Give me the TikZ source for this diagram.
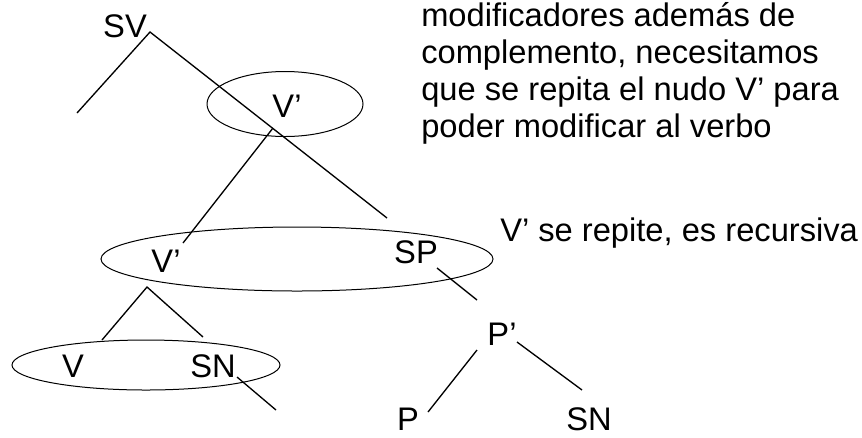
\documentclass[tikz,border=0pt]{standalone}
\usepackage{fontspec}
\setmainfont{Liberation Sans}
\usetikzlibrary{positioning}

\begin{document}
\begin{tikzpicture}[x=0.75pt, y=-0.75pt,
  cat/.style={font=\fontsize{24.5}{28}\selectfont, inner sep=0pt, anchor=base},
  note/.style={font=\fontsize{24.5}{28}\selectfont, inner sep=0pt, anchor=base west},
  branch/.style={line width=1pt},
  phrase/.style={line width=0.75pt}]

\useasboundingbox (0,0) rectangle (862,437);

% --- phrase markers (ellipses) ---
\draw[phrase] (285,104) ellipse [x radius=78, y radius=32.5];
\draw[phrase] (297,259) ellipse [x radius=196, y radius=32];
\draw[phrase] (146,365) ellipse [x radius=134, y radius=25];

% --- category labels ---
\node[cat] (sv) at (125,37) {SV};
\node[cat] (vbar1) at (287,117) {V’};
\node[cat] (vbar2) at (166,272) {V’};
\node[cat] (sp) at (416,263) {SP};
\node[cat] (v) at (73,377) {V};
\node[cat] (sn1) at (213,377) {SN};
\node[cat] (pbar) at (502,345) {P’};
\node[cat] (p) at (408,430) {P};
\node[cat] (sn2) at (589,430) {SN};

% --- branch end points ---
\coordinate (sv-apex) at (150,32);
\coordinate (sv-left) at (77,113);
\coordinate (sv-right) at (387,218);
\coordinate (vbar1-foot) at (273,128);
\coordinate (vbar2-top) at (183,243);
\coordinate (vbar2-apex) at (147,287);
\coordinate (v-top) at (102,340);
\coordinate (sn1-top) at (203,337);
\coordinate (sn1-foot) at (237,377);
\coordinate (sn1-end) at (276,410);
\coordinate (sp-foot) at (437,268);
\coordinate (pbar-top) at (477,300);
\coordinate (pbar-left) at (477,350);
\coordinate (pbar-right) at (517,342);
\coordinate (p-top) at (428,412);
\coordinate (sn2-top) at (582,390);

% --- branches ---
\draw[branch] (sv-left) -- (sv-apex) -- (sv-right);
\draw[branch] (vbar1-foot) -- (vbar2-top);
\draw[branch] (v-top) -- (vbar2-apex) -- (sn1-top);
\draw[branch] (sn1-foot) -- (sn1-end);
\draw[branch] (sp-foot) -- (pbar-top);
\draw[branch] (pbar-left) -- (p-top);
\draw[branch] (pbar-right) -- (sn2-top);

% --- notes ---
\node[note] (note1) at (421,26) {modificadores además de};
\node[note] (note2) at (421,63) {complemento, necesitamos};
\node[note] (note3) at (421,100) {que se repita el nudo V’ para};
\node[note] (note4) at (421,137) {poder modificar al verbo};
\node[note] (note5) at (500,241) {V’ se repite, es recursiva};

\end{tikzpicture}
\end{document}
